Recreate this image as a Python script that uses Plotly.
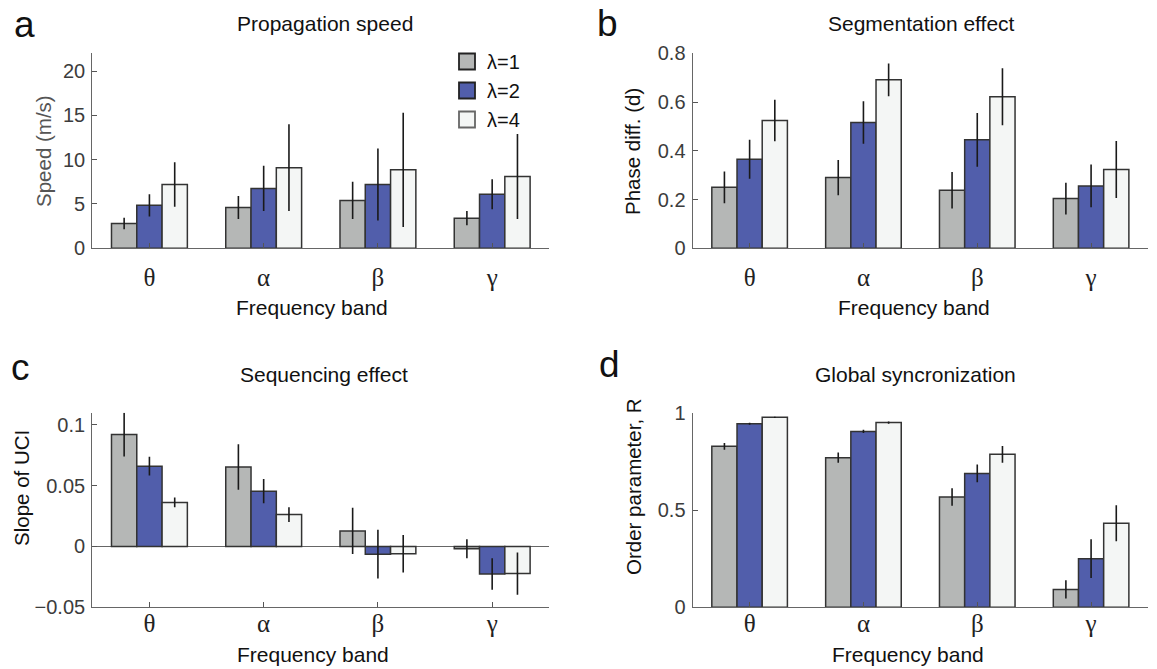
import plotly.graph_objects as go

W, H = 1157, 669

bands = ["θ", "α", "β", "γ"]
series_names = ["λ=1", "λ=2", "λ=4"]
colors = ["#b5b7b6", "#515eab", "#f4f6f5"]

# Panel a: Propagation speed (m/s)
speed_l1 = [2.8, 4.6, 5.4, 3.4]
speed_l2 = [4.85, 6.75, 7.2, 6.1]
speed_l4 = [7.2, 9.1, 8.85, 8.1]
speed_l1_err = [0.65, 1.3, 2.1, 0.8]
speed_l2_err = [1.25, 2.55, 4.05, 1.7]
speed_l4_err = [2.5, 4.9, 6.45, 4.8]

# Panel b: Segmentation effect, phase diff (d)
phase_l1 = [0.25, 0.29, 0.238, 0.204]
phase_l2 = [0.365, 0.516, 0.445, 0.256]
phase_l4 = [0.524, 0.691, 0.622, 0.323]
phase_l1_err = [0.065, 0.072, 0.075, 0.065]
phase_l2_err = [0.08, 0.087, 0.11, 0.088]
phase_l4_err = [0.085, 0.067, 0.117, 0.117]

# Panel c: Sequencing effect, slope of UCI
slope_l1 = [0.092, 0.0654, 0.0128, -0.0019]
slope_l2 = [0.066, 0.0455, -0.0063, -0.0226]
slope_l4 = [0.0362, 0.0262, -0.006, -0.0223]
slope_l1_err = [0.018, 0.0187, 0.019, 0.0078]
slope_l2_err = [0.0077, 0.01, 0.02, 0.013]
slope_l4_err = [0.004, 0.006, 0.0154, 0.0173]

# Panel d: Global synchronization, order parameter R
order_l1 = [0.827, 0.769, 0.567, 0.092]
order_l2 = [0.943, 0.904, 0.688, 0.25]
order_l4 = [0.976, 0.949, 0.786, 0.432]
order_l1_err = [0.017, 0.026, 0.045, 0.047]
order_l2_err = [0.005, 0.008, 0.046, 0.1]
order_l4_err = [0.003, 0.006, 0.043, 0.092]

panels = [
    ([speed_l1, speed_l2, speed_l4], [speed_l1_err, speed_l2_err, speed_l4_err]),
    ([phase_l1, phase_l2, phase_l4], [phase_l1_err, phase_l2_err, phase_l4_err]),
    ([slope_l1, slope_l2, slope_l4], [slope_l1_err, slope_l2_err, slope_l4_err]),
    ([order_l1, order_l2, order_l4], [order_l1_err, order_l2_err, order_l4_err]),
]

SANS = "Liberation Sans, Arial, Helvetica, sans-serif"
SERIF = "Liberation Serif, Times New Roman, serif"
EDGE = "#333333"

def fx(p):
    return p / W

def fy(p):
    return 1 - p / H

fig = go.Figure()

for i, (vals, errs) in enumerate(panels):
    ax = "" if i == 0 else str(i + 1)
    for s in range(3):
        fig.add_trace(go.Bar(
            x=bands, y=vals[s], name=series_names[s],
            marker=dict(color=colors[s], line=dict(color=EDGE, width=1.5)),
            error_y=dict(type="data", array=errs[s], color="#1a1a1a", thickness=1.6, width=0),
            xaxis="x" + ax, yaxis="y" + ax,
            showlegend=False, legendgroup=series_names[s],
        ))

# legend proxies (larger square swatches like the original)
for s in range(3):
    fig.add_trace(go.Scatter(
        x=[None], y=[None], mode="markers", name=series_names[s],
        marker=dict(symbol="square", size=18, color=colors[s],
                    line=dict(color="#222" if s < 2 else "#666", width=1.8)),
        legendgroup=series_names[s], showlegend=True, xaxis="x", yaxis="y",
    ))

# domains (pixels)
xdom = {1: (92.3, 549.3), 2: (692.7, 1148), 3: (92.3, 549.3), 4: (692.7, 1148)}
ydom = {1: (53.3, 248.3), 2: (53.3, 248.3), 3: (412.7, 607.3), 4: (412.7, 607.3)}
yranges = {1: [0, 22], 2: [0, 0.8], 3: [-0.05, 0.11], 4: [0, 1]}
yticks = {
    1: ([0, 5, 10, 15, 20], ["0", "5", "10", "15", "20"]),
    2: ([0, 0.2, 0.4, 0.6, 0.8], ["0", "0.2", "0.4", "0.6", "0.8"]),
    3: ([-0.05, 0, 0.05, 0.1], ["\u22120.05", "0", "0.05", "0.1"]),
    4: ([0, 0.5, 1], ["0", "0.5", "1"]),
}
xstandoff = {1: 7, 2: 7, 3: -6, 4: -6}

layout = {}
for k in range(1, 5):
    ax = "" if k == 1 else str(k)
    layout["xaxis" + ax] = dict(
        domain=[fx(xdom[k][0]), fx(xdom[k][1])],
        anchor="y" + ax, range=[-0.5, 3.5],
        showline=True, linecolor="#666", linewidth=1.3,
        ticks="inside", ticklen=5, tickcolor="#555", tickwidth=1.2,
        tickfont=dict(family=SERIF, size=25, color="#222"),
        ticklabelstandoff=xstandoff[k],
        showgrid=False, zeroline=False, automargin=False,
    )
    layout["yaxis" + ax] = dict(
        domain=[fy(ydom[k][1]), fy(ydom[k][0])],
        anchor="x" + ax, range=yranges[k],
        tickvals=yticks[k][0], ticktext=yticks[k][1],
        showline=True, linecolor="#666", linewidth=1.3,
        ticks="inside", ticklen=5, tickcolor="#555", tickwidth=1.2,
        tickfont=dict(family=SANS, size=20, color="#3c3c3c"),
        ticklabelstandoff=2,
        showgrid=False, automargin=False,
        zeroline=(k == 3), zerolinecolor="#666", zerolinewidth=1.2,
    )

annotations = []
def ann(text, x, y, size, color="#111", angle=0, family=SANS):
    annotations.append(dict(text=text, x=fx(x), y=fy(y), xref="paper", yref="paper",
                            showarrow=False, font=dict(family=family, size=size, color=color),
                            textangle=angle, xanchor="center", yanchor="middle"))

# panel letters
ann("a", 24, 25, 37)
ann("b", 607, 23, 37)
ann("c", 20, 367, 37)
ann("d", 609, 364, 37)
# titles
ann("Propagation speed", 325, 24, 21)
ann("Segmentation effect", 921, 23, 21)
ann("Sequencing effect", 324, 375, 21)
ann("Global syncronization", 915, 375, 21)
# x titles
ann("Frequency band", 312, 308, 21)
ann("Frequency band", 914, 308, 21)
ann("Frequency band", 313, 654, 21)
ann("Frequency band", 908, 654, 21)
# y titles
ann("Speed (m/s)", 43, 151, 20.5, color="#555", angle=-90)
ann("Phase diff. (d)", 632, 152, 20.5, angle=-90)
ann("Slope of UCI", 21, 488, 20.5, angle=-90)
ann("Order parameter, R", 634, 487, 20.5, angle=-90)

fig.update_layout(
    width=W, height=H,
    margin=dict(l=0, r=0, t=0, b=0, autoexpand=False),
    paper_bgcolor="white", plot_bgcolor="white",
    barmode="group", bargap=0.336, bargroupgap=0,
    font=dict(family=SANS, color="#111"),
    annotations=annotations,
    showlegend=True,
    legend=dict(x=fx(447), y=fy(42), xanchor="left", yanchor="top",
                font=dict(family=SANS, size=20, color="#111"),
                bgcolor="rgba(0,0,0,0)", itemwidth=30, tracegroupgap=0),
    **layout,
)

fig.write_html("out.html")
